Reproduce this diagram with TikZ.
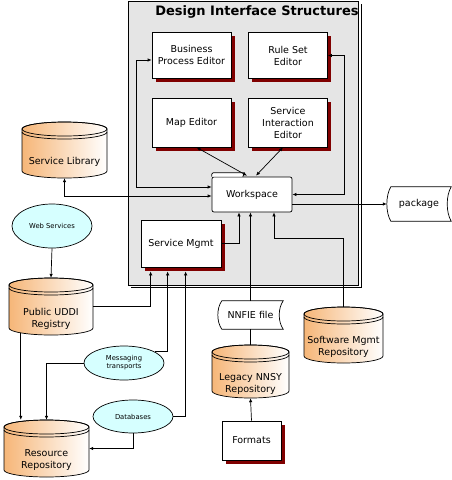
\documentclass[tikz,border=0pt]{standalone}
\usepackage{fontspec}
\setmainfont{DejaVu Sans}
\usetikzlibrary{arrows.meta,calc,shadows,shapes.geometric}

\definecolor{framegray}{RGB}{229,229,229}
\definecolor{shadowred}{RGB}{128,0,0}
\definecolor{repoorange}{RGB}{246,182,120}
\definecolor{svccyan}{RGB}{214,255,255}

\tikzset{
    editor/.style={draw, fill=white, line width=.7pt, align=center, minimum width=79pt, minimum height=46pt,
        font=\fontsize{9.5}{12}\selectfont,
        drop shadow={shadow xshift=3.5pt, shadow yshift=-3.5pt, fill=shadowred, opacity=1}},
    folder/.style={draw, fill=white, line width=.7pt, rounded corners=2pt, minimum width=80pt, minimum height=35pt,
        font=\fontsize{9.5}{12}\selectfont},
    service/.style={ellipse, draw, fill=svccyan, line width=.7pt, inner sep=0pt, minimum width=80pt, align=center,
        font=\fontsize{6.8}{7.8}\selectfont},
    repo/.style={inner sep=0pt},
    repotext/.style={align=center, font=\fontsize{9.5}{12}\selectfont},
    storage/.style={inner sep=0pt, minimum height=34pt, font=\fontsize{9.5}{12}\selectfont},
    conn/.style={line width=.7pt, -{Latex[length=4pt,width=3.5pt]}},
    biconn/.style={line width=.7pt, {Latex[length=4pt,width=3.5pt]}-{Latex[length=4pt,width=3.5pt]}},
}

% cylinder: name, centre x, centre y, half width, half height, text
\newcommand{\repo}[6]{
    \shadedraw[line width=.7pt, left color=repoorange, right color=white]
        ({#2-#4},{#3-#5+7}) -- ({#2-#4},{#3+#5-7})
        arc[start angle=180, end angle=0, x radius=#4, y radius=7]
        -- ({#2+#4},{#3-#5+7})
        arc[start angle=0, end angle=-180, x radius=#4, y radius=7] -- cycle;
    \draw[line width=.7pt] ({#2},{#3-#5+7}) ellipse[x radius=#4, y radius=7];
    \draw[line width=.7pt] ({#2-#4},{#3-#5+10}) arc[start angle=180, end angle=0, x radius=#4, y radius=7];
    \node[repo, minimum width=2*#4, minimum height=2*#5] (#1) at (#2,#3) {};
    \node[repotext] (#1-t) at ($(#1)+(0,12)$) {#6};
}

\begin{document}
\begin{tikzpicture}[x=1pt, y=-1pt]
    \useasboundingbox (0,0) rectangle (452,480);

    % frame
    \draw[line width=.7pt, fill=framegray] (128,1) rectangle (358,285);
    \draw[line width=.7pt] (131,287.5) -- (361,287.5) -- (361,4);
    \node[font=\fontsize{13}{15}\selectfont\bfseries] (title) at (257,12) {Design Interface Structures};

    \node[editor] (bpe) at (191.5,55) {Business\\Process Editor};
    \node[editor] (rse) at (288,55.5) {Rule Set\\Editor};
    \node[editor, minimum height=49pt] (map) at (191.5,122.5) {Map Editor};
    \node[editor, minimum height=49pt] (sie) at (288,122.5) {Service\\Interaction\\Editor};
    \node[editor, minimum width=80pt, minimum height=47pt] (smg) at (181,243.5) {Service Mgmt};
    \node[editor, minimum width=59pt, minimum height=39pt] (fmt) at (251.5,440.5) {Formats};

    \node[folder] (ws) at (252,194.5) {Workspace};
    \draw[line width=.7pt, fill=white, rounded corners=1.5pt] (ws.north west) -- ++(0,-4) -- ++(34,0) -- ++(-3,4);

    \repo{lib}{64.5}{150}{42.5}{28}{Service Library}
    \repo{udd}{51}{306.5}{42}{28.5}{Public UDDI\\Registry}
    \repo{res}{46.5}{448.5}{42.5}{28.5}{Resource\\Repository}
    \repo{leg}{250.5}{371.5}{38.5}{26.5}{Legacy NNSY\\Repository}
    \repo{swm}{343.5}{335}{39.5}{28}{Software Mgmt\\Repository}

    \node[service, minimum height=44pt] (web) at (52,226) {Web Services};
    \node[service, minimum height=34pt] (msg) at (124,363) {Messaging\\transports};
    \node[service, minimum height=33pt] (dbs) at (133,416.5) {Databases};

    \node[storage, minimum width=64pt] (pkg) at (419,204) {package};
    \draw[line width=.7pt] ($(pkg.north west)+(4,0)$) .. controls +(-5.3,9) and +(-5.3,-9) .. ($(pkg.south west)+(4,0)$)
        -- (pkg.south east) .. controls +(-5.3,-9) and +(-5.3,9) .. (pkg.north east) -- cycle;
    \node[storage, minimum width=65pt, minimum height=28pt] (nnf) at (250.5,315) {NNFIE file};
    \draw[line width=.7pt] ($(nnf.north west)+(4,0)$) .. controls +(-5.3,7.5) and +(-5.3,-7.5) .. ($(nnf.south west)+(4,0)$)
        -- (nnf.south east) .. controls +(-5.3,-7.5) and +(-5.3,7.5) .. (nnf.north east) -- cycle;

    % connectors
    \draw[biconn] ($(bpe.west)+(0,5)$) -- ++(-15,0) |- ($(ws.west)+(0,-7.5)$);
    \draw[biconn] (lib.south) |- ($(ws.west)+(0,1.5)$);
    \draw[biconn] ($(map.south)+(5,0)$) -- ($(ws.north)+(-5,-1)$);
    \draw[biconn] ($(sie.south)+(-5,0)$) -- ($(ws.north)+(4,-1)$);
    \draw[biconn] (rse.east) -- ++(16,0) |- (ws.east);
    \draw[conn] ($(ws.east)+(0,9.5)$) -- (pkg.west);
    \draw[conn] (smg.east) -| ($(ws.south)+(-13,0)$);
    \draw[conn] (nnf.north) -- (nnf.north |- ws.south);
    \draw[conn] (swm.north) -- ++(0,-68) -| ($(ws.south)+(22,0)$);
    \draw[line width=.7pt] (nnf.south) -- (leg.north);
    \draw[conn] (fmt.north) -- (leg.south);
    \draw[conn] (web.south) -- (udd.north);
    \draw[conn] (udd.east) -| ($(smg.south west)+(10,4)$);
    \draw[conn] (msg.20) -| ($(smg.south west)+(27,4)$);
    \draw[conn] (dbs.east) -| ($(smg.south west)+(45,4)$);
    \draw[conn] (msg.west) -| (res.north);
    \coordinate (uddfoot) at ($(udd.south west)+(12,-2)$);
    \draw[conn] (uddfoot) -- (uddfoot |- res.north);
    \draw[conn] (dbs.south) |- (res.east);
\end{tikzpicture}
\end{document}
